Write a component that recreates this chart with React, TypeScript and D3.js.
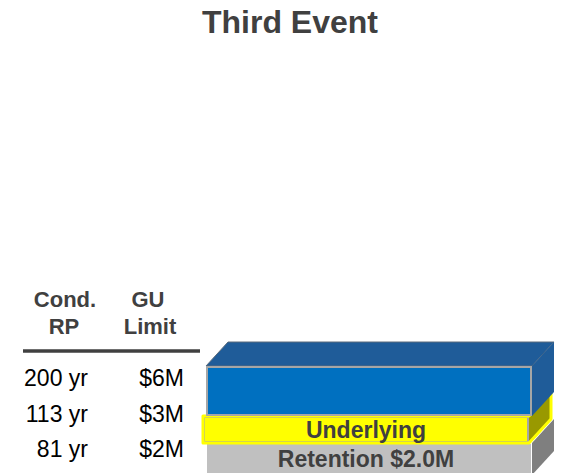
import React from 'react';
import * as d3 from 'd3';

const width = 562;
const height = 473;

// layers, bottom to top (values in $M)
const layerNames = ['Retention', 'Underlying', 'Excess'];
const layerFrom = [0, 2, 3];
const layerTo = [2, 3, 6];
const layerLabels = ['Retention $2.0M', 'Underlying', ''];

// table rows
const rowRP = ['200 yr', '113 yr', '81 yr'];
const rowLimit = ['$6M', '$3M', '$2M'];

const title = 'Third Event';
const font = "'Liberation Sans', Arial, Helvetica, sans-serif";

const colors: Record<string, { front: string; top: string; side: string; border: string }> = {
  Retention: { front: '#C0C0C0', top: '#A0A0A0', side: '#7F7F7F', border: '#B5B5B5' },
  Underlying: { front: '#FFFF00', top: '#CCCC00', side: '#999900', border: '#A6A6A6' },
  Excess: { front: '#0070C0', top: '#1F5C99', side: '#1F5C99', border: '#A6A6A6' },
};

const App: React.FC = () => {
  const x = d3.scaleBand<string>().domain([title]).range([206, 532]).padding(0);
  // the layers are drawn with uneven heights, so the scale is piecewise
  const y = d3.scaleLinear().domain([0, 2, 3, 6]).range([475, 443, 416, 366]);
  const rowY = d3.scalePoint<string>().domain(rowRP).range([386, 457]);
  const dx = 22;
  const dy = -24;

  const x0 = x(title) as number;
  const x1 = x0 + x.bandwidth();
  const cx = x0 + x.bandwidth() / 2;

  return (
    <svg
      width={width}
      height={height}
      viewBox={`0 0 ${width} ${height}`}
      style={{ position: 'absolute', left: 0, top: 0, background: '#fff' }}
      fontFamily={font}
    >
      <text x={290} y={33} textAnchor="middle" fontSize={32} fontWeight="bold" fill="#404040">
        {title}
      </text>

      {/* table header */}
      <g fontSize={22} fontWeight="bold" fill="#404040" textAnchor="middle">
        <text x={65} y={307}>Cond.</text>
        <text x={64} y={334}>RP</text>
        <text x={148} y={307}>GU</text>
        <text x={150} y={334}>Limit</text>
      </g>
      <line x1={23} x2={200} y1={351} y2={351} stroke="#404040" strokeWidth={3.5} />
      <g fontSize={23} fill="#000">
        {rowRP.map((d, i) => (
          <g key={d}>
            <text x={88} y={rowY(d)} textAnchor="end">{d}</text>
            <text x={184} y={rowY(d)} textAnchor="end">{rowLimit[i]}</text>
          </g>
        ))}
      </g>

      {/* 3D stacked bar */}
      {layerNames.map((name, i) => {
        const c = colors[name];
        const shift = name === 'Underlying' ? -3 : 0;
        const a = x0 + shift;
        const b = x1 + shift;
        const yt = y(layerTo[i]);
        const yb = y(layerFrom[i]);
        const side = `M${b},${yt}L${b + dx},${yt + dy}L${b + dx},${yb + dy}L${b},${yb}Z`;
        const top = `M${a},${yt}L${a + dx},${yt + dy}L${b + dx},${yt + dy}L${b},${yt}Z`;
        const outline = `M${a},${yt}L${b},${yt}L${b + dx},${yt + dy}L${b + dx},${yb + dy}L${b},${yb}L${a},${yb}Z`;
        const isTop = i === layerNames.length - 1;
        return (
          <g key={name}>
            {isTop && <path d={top} fill={c.top} stroke="#5A6B7C" strokeWidth={1} />}
            <path d={side} fill={c.side} />
            <rect
              x={a + 1}
              y={yt + 1}
              width={b - a - 2}
              height={yb - yt - 2}
              fill={c.front}
              stroke={c.border}
              strokeWidth={name === 'Retention' ? 0 : 2}
            />
            {name === 'Underlying' && (
              <path d={outline} fill="none" stroke="#FFFF00" strokeWidth={3} strokeLinejoin="round" />
            )}
            {layerLabels[i] && (
              <text
                x={cx - 3}
                y={(yt + yb) / 2 + 8}
                textAnchor="middle"
                fontSize={23}
                fontWeight="bold"
                fill="#404040"
              >
                {layerLabels[i]}
              </text>
            )}
          </g>
        );
      })}
    </svg>
  );
};

export default App;
